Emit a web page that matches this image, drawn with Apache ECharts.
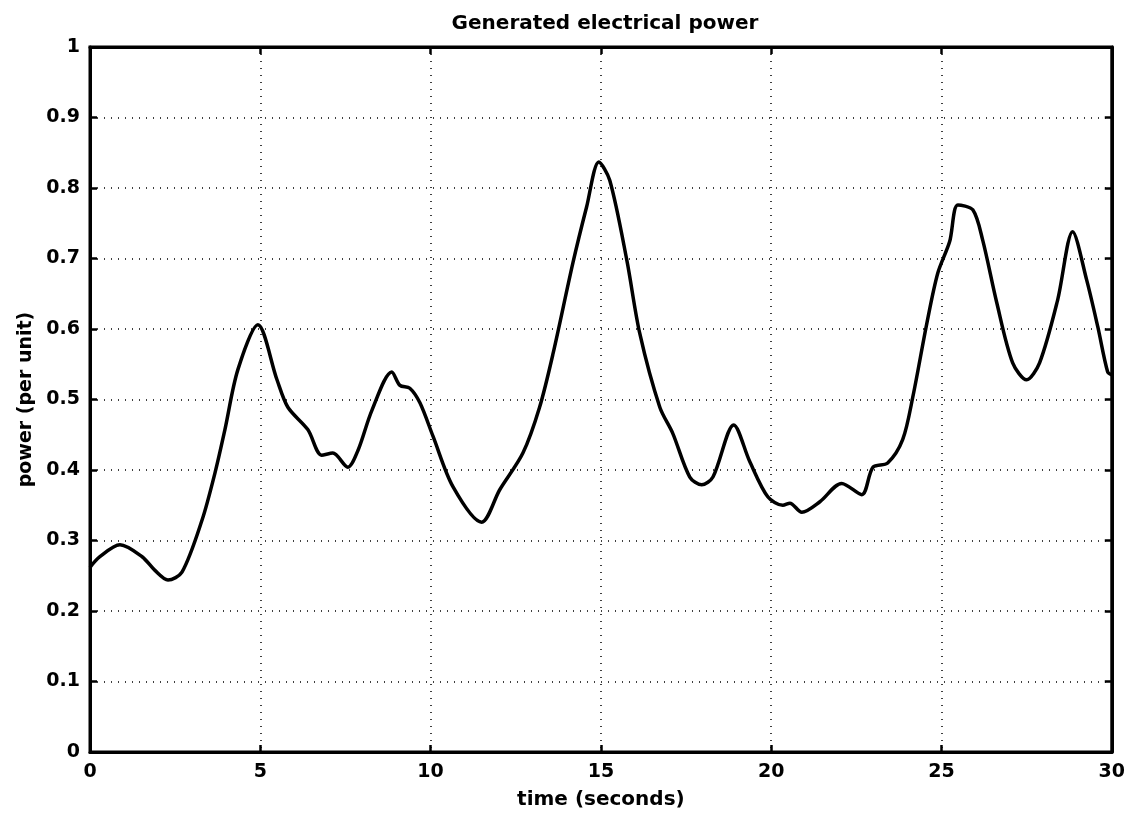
<!DOCTYPE html>
<html>
<head>
<meta charset="utf-8">
<script src="https://cdn.jsdelivr.net/npm/echarts@6/dist/echarts.min.js"></script>
<style>
html,body{margin:0;padding:0;background:#fff;}
#chart{width:1128px;height:817px;}
</style>
</head>
<body>
<div id="chart"></div>
<script>
const titleText = "Generated electrical power";
const xName = "time (seconds)";
const yName = "power (per unit)";
const xTicks = [0, 5, 10, 15, 20, 25, 30];
const yTicks = [0, 0.1, 0.2, 0.3, 0.4, 0.5, 0.6, 0.7, 0.8, 0.9, 1];
const timeSec = [0, 0.29, 0.88, 1.53, 1.9, 2.29, 2.7, 3.29, 3.67, 3.96, 4.34, 4.93, 5.49, 5.81, 6.4, 6.8, 7.13, 7.57, 7.87, 8.28, 8.86, 9.1, 9.39, 9.69, 10.07, 10.66, 11.5, 12.03, 12.71, 13.2, 13.6, 14.18, 14.58, 14.94, 15.26, 15.76, 16.14, 16.73, 17.11, 17.61, 17.96, 18.29, 18.9, 19.37, 19.9, 20.34, 20.55, 20.9, 21.43, 22.07, 22.66, 22.99, 23.42, 23.86, 24.16, 24.57, 24.89, 25.24, 25.48, 25.92, 26.21, 26.62, 27.09, 27.5, 27.88, 28.41, 28.85, 29.26, 29.59, 29.88, 30];
const powerPU = [0.262, 0.277, 0.294, 0.277, 0.258, 0.244, 0.255, 0.329, 0.396, 0.457, 0.542, 0.606, 0.528, 0.489, 0.457, 0.421, 0.424, 0.404, 0.428, 0.485, 0.539, 0.52, 0.516, 0.495, 0.448, 0.376, 0.326, 0.372, 0.424, 0.489, 0.566, 0.694, 0.773, 0.837, 0.811, 0.698, 0.594, 0.489, 0.452, 0.39, 0.379, 0.39, 0.464, 0.412, 0.362, 0.35, 0.353, 0.34, 0.355, 0.381, 0.365, 0.404, 0.41, 0.443, 0.504, 0.608, 0.679, 0.724, 0.776, 0.769, 0.726, 0.638, 0.552, 0.528, 0.552, 0.641, 0.738, 0.67, 0.603, 0.539, 0.535];

const font = "'DejaVu Sans', Verdana, sans-serif";
const chart = echarts.init(document.getElementById('chart'));
const data = timeSec.map((t, i) => [t, powerPU[i]]);
const dotted = {show: true, lineStyle: {color: '#000', type: [1, 6], width: 1.5}};
const tickStyle = {show: true, inside: true, length: 7, lineStyle: {color: '#000', width: 2.5}};
const lineAx = {show: true, onZero: false, lineStyle: {color: '#000', width: 3}};
chart.setOption({
  animation: false,
  backgroundColor: '#fff',
  title: {
    text: titleText, left: 600, top: 9, textAlign: 'center',
    textStyle: {fontFamily: font, fontWeight: 'bold', fontSize: 20, color: '#000'}
  },
  grid: {left: 90, right: 16, top: 47, bottom: 65, containLabel: false,
    show: true, borderColor: '#000', borderWidth: 3, backgroundColor: 'transparent'},
  xAxis: [{
    type: 'value', min: 0, max: 30, interval: 5,
    name: xName, nameLocation: 'middle', nameGap: 38,
    nameTextStyle: {fontFamily: font, fontWeight: 'bold', fontSize: 20, color: '#000'},
    axisLine: lineAx, axisTick: tickStyle,
    axisLabel: {fontFamily: font, fontWeight: 'bold', fontSize: 19, color: '#000', margin: 11},
    splitLine: dotted
  }, {
    type: 'value', min: 0, max: 30, interval: 5, position: 'top',
    axisLine: lineAx, axisTick: tickStyle,
    axisLabel: {show: false}, splitLine: {show: false}
  }],
  yAxis: [{
    type: 'value', min: 0, max: 1, interval: 0.1,
    name: yName, nameLocation: 'middle', nameGap: 54, nameRotate: 90,
    nameTextStyle: {fontFamily: font, fontWeight: 'bold', fontSize: 19, color: '#000'},
    axisLine: lineAx, axisTick: tickStyle,
    axisLabel: {fontFamily: font, fontWeight: 'bold', fontSize: 19, color: '#000', margin: 10,
      formatter: v => String(Math.round(v * 10) / 10)},
    splitLine: dotted
  }, {
    type: 'value', min: 0, max: 1, interval: 0.1, position: 'right',
    axisLine: lineAx, axisTick: tickStyle,
    axisLabel: {show: false}, splitLine: {show: false}
  }],
  series: [{
    type: 'line', data: data, xAxisIndex: 0, yAxisIndex: 0,
    showSymbol: false, smooth: 0.3,
    lineStyle: {color: '#000', width: 3.5}
  }, {
    type: 'line', data: [], xAxisIndex: 1, yAxisIndex: 1, showSymbol: false
  }]
});
</script>
</body>
</html>
